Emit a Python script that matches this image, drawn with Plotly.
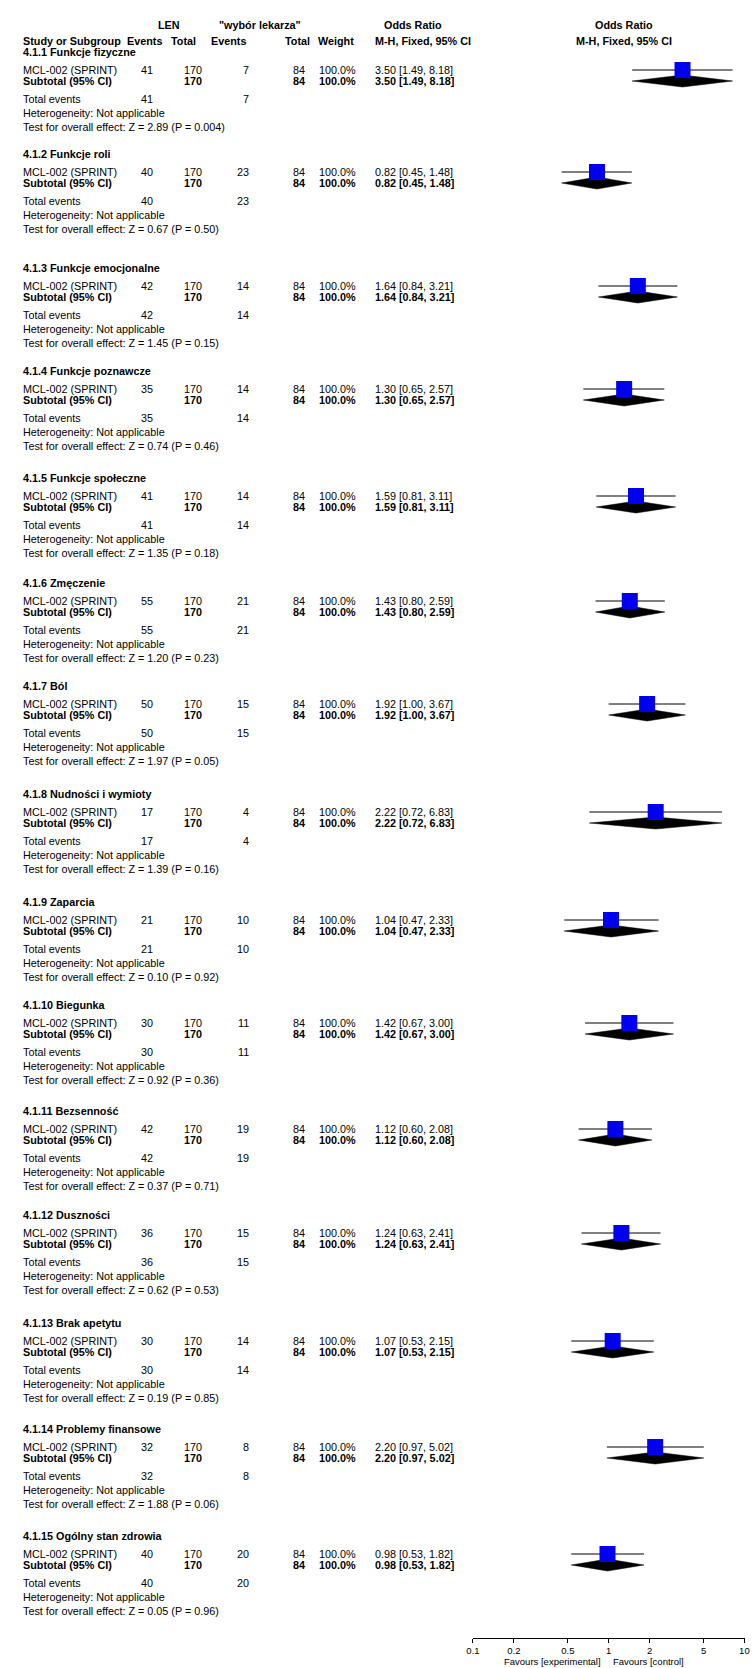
import plotly.graph_objects as go

# ---------------- data ----------------
subgroups = [
    "4.1.1 Funkcje fizyczne", "4.1.2 Funkcje roli", "4.1.3 Funkcje emocjonalne",
    "4.1.4 Funkcje poznawcze", "4.1.5 Funkcje społeczne", "4.1.6 Zmęczenie",
    "4.1.7 Ból", "4.1.8 Nudności i wymioty", "4.1.9 Zaparcia", "4.1.10 Biegunka",
    "4.1.11 Bezsenność", "4.1.12 Duszności", "4.1.13 Brak apetytu",
    "4.1.14 Problemy finansowe", "4.1.15 Ogólny stan zdrowia",
]
study_name = "MCL-002 (SPRINT)"
len_events = [41, 40, 42, 35, 41, 55, 50, 17, 21, 30, 42, 36, 30, 32, 40]
ctrl_events = [7, 23, 14, 14, 14, 21, 15, 4, 10, 11, 19, 15, 14, 8, 20]
len_total = 170
ctrl_total = 84
weights = ["100.0%"] * 15
odds_ratio = [3.50, 0.82, 1.64, 1.30, 1.59, 1.43, 1.92, 2.22, 1.04, 1.42, 1.12, 1.24, 1.07, 2.20, 0.98]
ci_low = [1.49, 0.45, 0.84, 0.65, 0.81, 0.80, 1.00, 0.72, 0.47, 0.67, 0.60, 0.63, 0.53, 0.97, 0.53]
ci_high = [8.18, 1.48, 3.21, 2.57, 3.11, 2.59, 3.67, 6.83, 2.33, 3.00, 2.08, 2.41, 2.15, 5.02, 1.82]
z_values = ["2.89", "0.67", "1.45", "0.74", "1.35", "1.20", "1.97", "1.39", "0.10", "0.92",
            "0.37", "0.62", "0.19", "1.88", "0.05"]
p_values = ["0.004", "0.50", "0.15", "0.46", "0.18", "0.23", "0.05", "0.16", "0.92", "0.36",
            "0.71", "0.53", "0.85", "0.06", "0.96"]
tick_values = [0.1, 0.2, 0.5, 1, 2, 5, 10]
tick_labels = ["0.1", "0.2", "0.5", "1", "2", "5", "10"]
favours_left = "Favours [experimental]"
favours_right = "Favours [control]"

# ---------------- layout constants ----------------
W, H = 756, 1668
AXIS_Y = 1638                      # pixel row of the forest axis line
group_top = [52, 154, 268, 371, 478, 583, 686, 794, 902, 1005, 1111, 1215, 1323, 1429, 1536]
OFF_STUDY, OFF_SUB, OFF_TOT, OFF_HET, OFF_TEST = 18, 29, 47, 61, 75
FONT = "Liberation Sans, Arial, sans-serif"
FS = 10.8
X_LABEL, X_EV1, X_TOT1, X_EV2, X_TOT2, X_W, X_OR = 14, 150, 200, 248, 305, 357, 372
PLOT_L, PLOT_R = 473.5, 749.5
DIAMOND_HALF = 6

annotations = []


def txt(x, y, s, anchor="left", bold=False, size=FS):
    annotations.append(dict(
        x=x / W, y=1 - y / H, xref="paper", yref="paper",
        text=f"<b>{s}</b>" if bold else s, showarrow=False,
        xanchor=anchor, yanchor="middle",
        font=dict(family=FONT, size=size, color="black"),
    ))


def fmt_or(o, lo, hi):
    return f"{o:.2f} [{lo:.2f}, {hi:.2f}]"


# column headers
txt(165, 25, "LEN", "center", True)
txt(257, 25, "\"wybór lekarza\"", "center", True)
txt(413, 25, "Odds Ratio", "center", True)
txt(627, 25, "Odds Ratio", "center", True)
txt(X_LABEL, 41, "Study or Subgroup", "left", True)
txt(140, 41, "Events", "center", True)
txt(179, 41, "Total", "center", True)
txt(225, 41, "Events", "center", True)
txt(295, 41, "Total", "center", True)
txt(334, 41, "Weight", "center", True)
txt(X_OR, 41, "M-H, Fixed, 95% CI", "left", True)
txt(627, 41, "M-H, Fixed, 95% CI", "center", True)

fig = go.Figure()

ci_x, ci_y, sq_x, sq_y = [], [], [], []
for i, name in enumerate(subgroups):
    top = group_top[i]
    ys, yb = top + OFF_STUDY, top + OFF_SUB
    or_text = fmt_or(odds_ratio[i], ci_low[i], ci_high[i])

    txt(X_LABEL, top, name, "left", True)

    txt(X_LABEL, ys, study_name)
    txt(X_EV1, ys, str(len_events[i]), "right")
    txt(X_TOT1, ys, str(len_total), "right")
    txt(X_EV2, ys, str(ctrl_events[i]), "right")
    txt(X_TOT2, ys, str(ctrl_total), "right")
    txt(X_W, ys, weights[i], "right")
    txt(X_OR, ys, or_text)

    txt(X_LABEL, yb, "Subtotal (95% CI)", "left", True)
    txt(X_TOT1, yb, str(len_total), "right", True)
    txt(X_TOT2, yb, str(ctrl_total), "right", True)
    txt(X_W, yb, weights[i], "right", True)
    txt(X_OR, yb, or_text, "left", True)

    txt(X_LABEL, top + OFF_TOT, "Total events")
    txt(X_EV1, top + OFF_TOT, str(len_events[i]), "right")
    txt(X_EV2, top + OFF_TOT, str(ctrl_events[i]), "right")
    txt(X_LABEL, top + OFF_HET, "Heterogeneity: Not applicable")
    txt(X_LABEL, top + OFF_TEST,
        f"Test for overall effect: Z = {z_values[i]} (P = {p_values[i]})")

    ci_x += [ci_low[i], ci_high[i], None]
    ci_y += [ys, ys, None]
    sq_x.append(odds_ratio[i])
    sq_y.append(ys)

    # pooled estimate diamond
    fig.add_trace(go.Scatter(
        x=[ci_low[i], odds_ratio[i], ci_high[i], odds_ratio[i], ci_low[i]],
        y=[yb, yb - DIAMOND_HALF, yb, yb + DIAMOND_HALF, yb],
        mode="lines", fill="toself", fillcolor="black",
        line=dict(color="black", width=0.5), hoverinfo="skip", showlegend=False,
    ))

# confidence interval whiskers
fig.add_trace(go.Scatter(x=ci_x, y=ci_y, mode="lines",
                         line=dict(color="black", width=1),
                         hoverinfo="skip", showlegend=False))
# study point estimates
fig.add_trace(go.Scatter(x=sq_x, y=sq_y, mode="markers",
                         marker=dict(symbol="square", size=16, color="#0000ee",
                                     line=dict(width=0)),
                         showlegend=False))

txt(606, 1661, favours_left, "right", size=9.5)
txt(614, 1661, favours_right, "left", size=9.5)

fig.update_layout(
    width=W, height=H,
    margin=dict(l=0, r=0, t=0, b=0),
    paper_bgcolor="white", plot_bgcolor="white",
    showlegend=False,
    annotations=annotations,
    xaxis=dict(
        type="log", range=[-1, 1.0015],
        domain=[PLOT_L / W, PLOT_R / W],
        tickvals=tick_values, ticktext=tick_labels,
        ticks="outside", ticklen=4, tickcolor="black", tickwidth=1,
        showline=True, linecolor="black", linewidth=1,
        showgrid=False, zeroline=False,
        tickfont=dict(family=FONT, size=9.5, color="black"),
    ),
    yaxis=dict(
        range=[AXIS_Y, 0], domain=[1 - AXIS_Y / H, 1],
        visible=False, showgrid=False, zeroline=False,
    ),
)

fig.write_html("out.html")
